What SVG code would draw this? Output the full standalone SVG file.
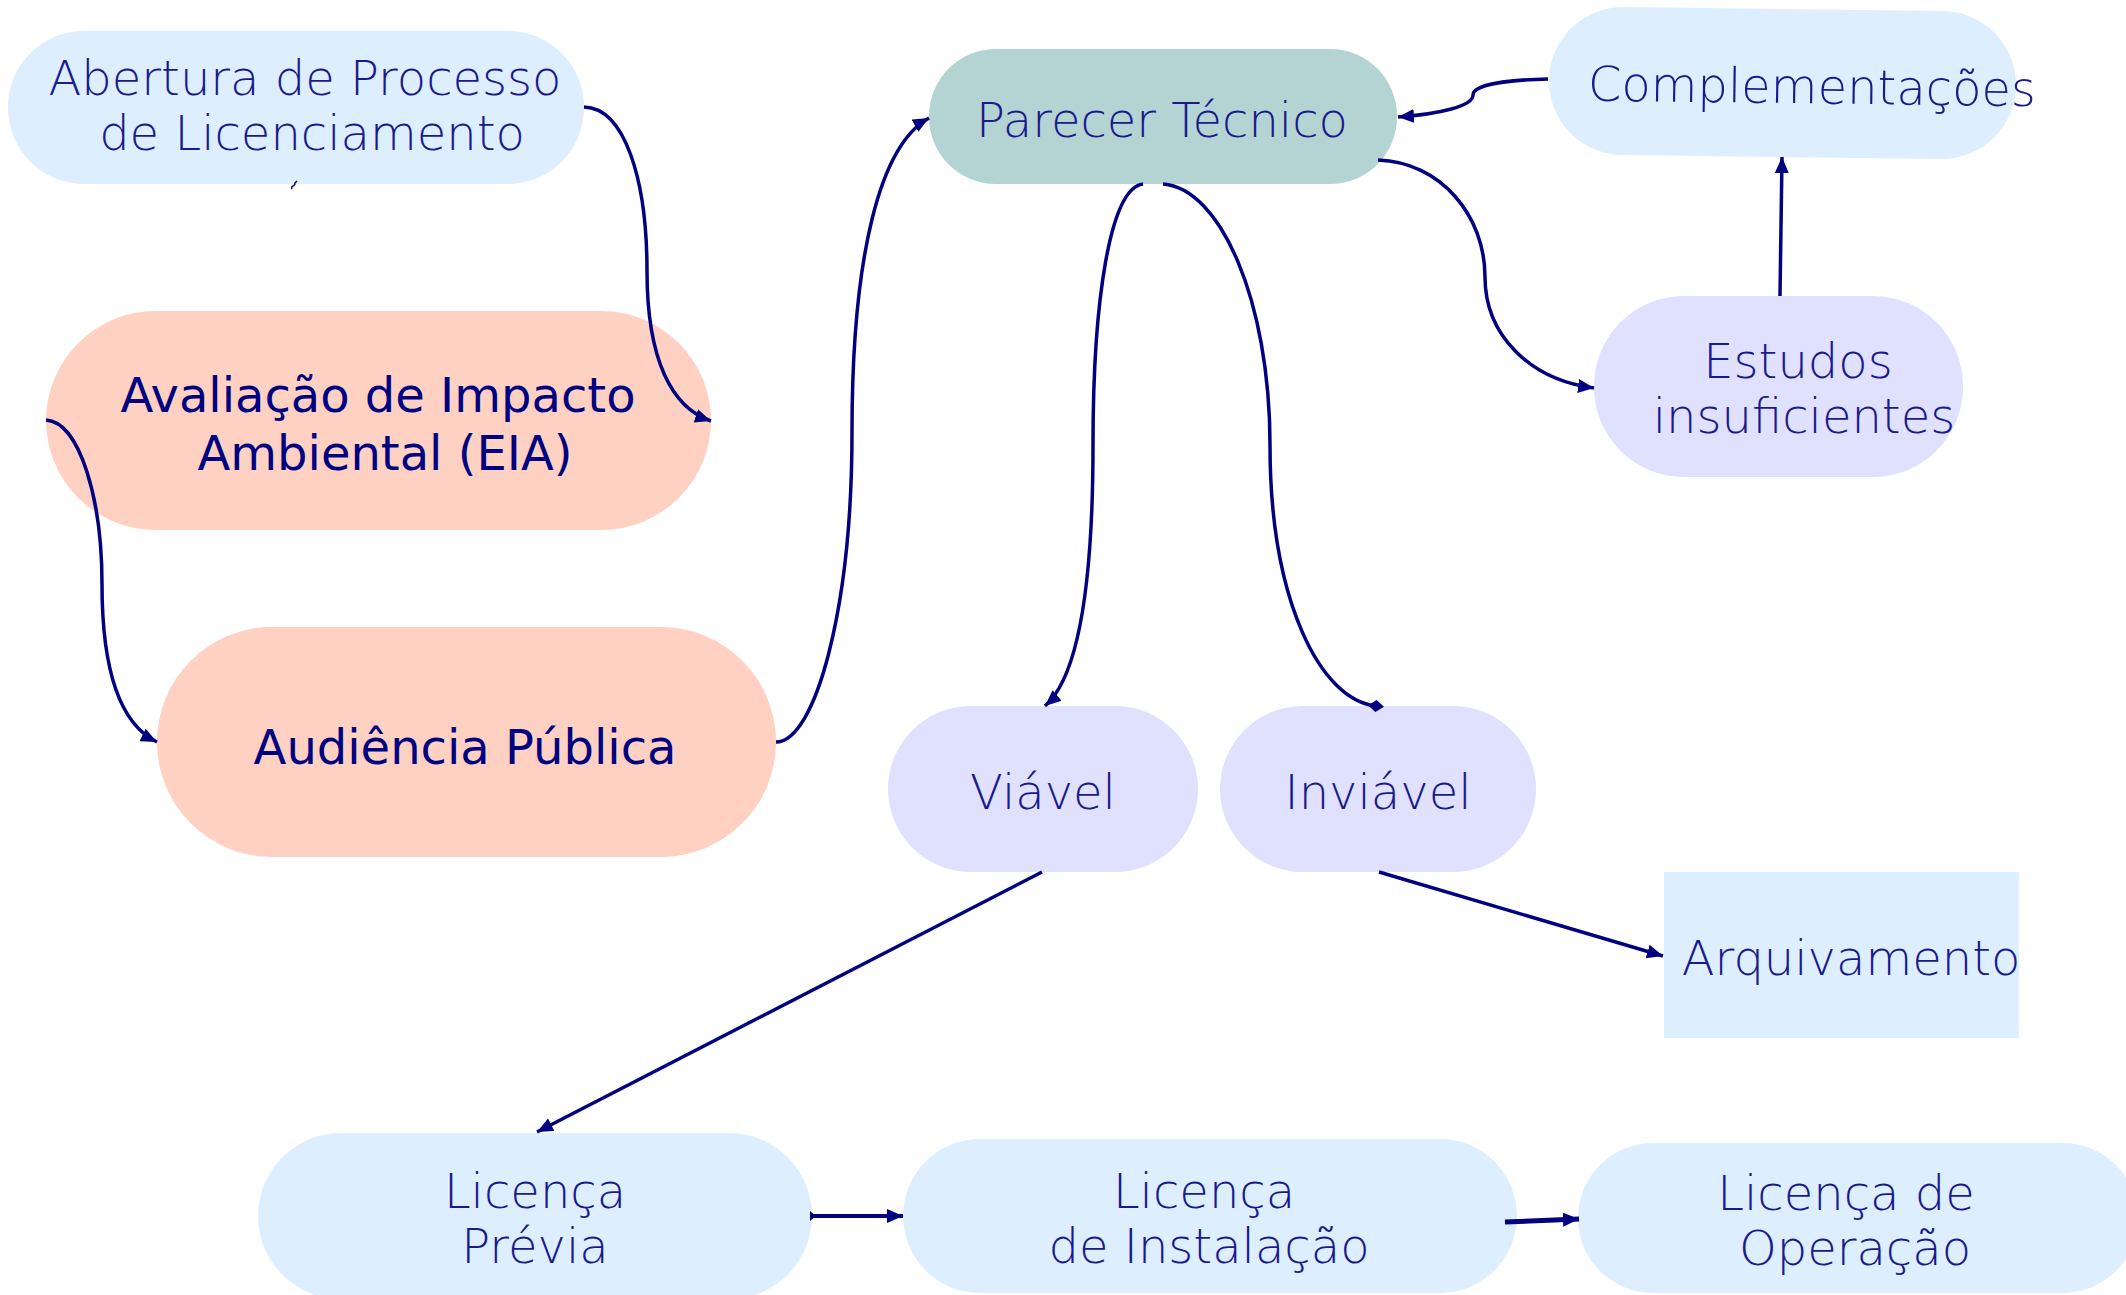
<svg xmlns="http://www.w3.org/2000/svg" width="2126" height="1295" viewBox="0 0 2126 1295">
<style>
.lb{fill:#DDEEFF}
.lv{fill:#E0E0FF}
.pc{fill:#FFD1C2}
.tl{fill:#B3D4D3}
text{font-family:"DejaVu Sans","Liberation Sans",sans-serif;font-size:48px;fill:#1a1a8c;text-anchor:middle;font-weight:200}
.dk{fill:#000080;font-weight:400}
.c{fill:none;stroke:#000080;stroke-width:3.5}
</style>
<defs>
<marker id="ar" markerUnits="userSpaceOnUse" markerWidth="18" markerHeight="16" refX="16" refY="7" orient="auto">
<path d="M0,0 L16,7 L0,14 z" fill="#000080"/>
</marker>
<marker id="dm" markerUnits="userSpaceOnUse" markerWidth="18" markerHeight="18" refX="9" refY="8" orient="auto">
<path d="M1,8 L9,2 L17,8 L9,14 z" fill="#000080"/>
</marker>
</defs>
<g id="n-abertura">
<rect class="lb" x="8" y="31" width="576" height="153" rx="76" ry="76"/>
<text x="305" y="95">Abertura de Processo</text>
<text x="312" y="150">de Licenciamento</text>
</g>
<g id="n-eia">
<rect class="pc" x="46" y="311" width="665" height="219" rx="110" ry="110"/>
<text class="dk" x="378" y="412">Avaliação de Impacto</text>
<text class="dk" x="385" y="470">Ambiental (EIA)</text>
</g>
<g id="n-audiencia">
<rect class="pc" x="157" y="627" width="619" height="230" rx="115" ry="115"/>
<text class="dk" x="465" y="764">Audiência Pública</text>
</g>
<g id="n-parecer">
<rect class="tl" x="929" y="49" width="468" height="135" rx="67" ry="67"/>
<text x="1162" y="137">Parecer Técnico</text>
</g>
<g id="n-complementacoes" transform="rotate(0.7 1783 83)">
<rect class="lb" x="1549" y="9" width="467" height="148" rx="74" ry="74"/>
<text x="1812" y="103">Complementações</text>
</g>
<g id="n-estudos">
<rect class="lv" x="1594" y="296" width="369" height="181" rx="90" ry="90"/>
<text x="1798" y="378">Estudos</text>
<text x="1804" y="433">insuficientes</text>
</g>
<g id="n-viavel">
<rect class="lv" x="888" y="706" width="310" height="166" rx="83" ry="83"/>
<text x="1043" y="809">Viável</text>
</g>
<g id="n-inviavel">
<rect class="lv" x="1220" y="706" width="316" height="166" rx="83" ry="83"/>
<text x="1378" y="809">Inviável</text>
</g>
<g id="n-arquivamento">
<rect class="lb" x="1664" y="872" width="355" height="166"/>
<text x="1851" y="975">Arquivamento</text>
</g>
<g id="n-previa">
<rect class="lb" x="258" y="1133" width="554" height="166" rx="83" ry="83"/>
<text x="535" y="1208">Licença</text>
<text x="535" y="1263">Prévia</text>
</g>
<g id="n-instalacao">
<rect class="lb" x="903" y="1139" width="614" height="154" rx="77" ry="77"/>
<text x="1204" y="1208">Licença</text>
<text x="1209" y="1263">de Instalação</text>
</g>
<g id="n-operacao">
<rect class="lb" x="1578" y="1143" width="560" height="150" rx="75" ry="75"/>
<text x="1846" y="1210">Licença de</text>
<text x="1855" y="1265">Operação</text>
</g>
<g id="connectors">
<path class="c" d="M292,189 c-2,-3 4,-3 3,-6 l2,-2" style="stroke-width:1.5"/>
<path class="c" d="M584,107 C625,108 647,180 647,271 C647,360 672,408 711,421" marker-end="url(#ar)"/>
<path class="c" d="M46,420 C80,422 102,500 102,584 C102,675 122,725 157,742" marker-end="url(#ar)"/>
<path class="c" d="M776,742 C815,742 852,610 852,432 C852,255 880,145 929,118" marker-end="url(#ar)"/>
<path class="c" d="M1548,79 C1500,80 1473,86 1473,95 C1473,106 1440,114 1398,117" marker-end="url(#ar)"/>
<path class="c" d="M1378,160 C1440,162 1485,215 1485,277 C1485,335 1530,380 1594,388" marker-end="url(#ar)"/>
<path class="c" d="M1780,296 L1782,157" marker-end="url(#ar)"/>
<path class="c" d="M1143,184 C1110,188 1093,300 1093,445 C1093,600 1075,680 1045,706" marker-end="url(#ar)"/>
<path class="c" d="M1163,184 C1220,188 1270,300 1270,445 C1270,600 1320,700 1376,706" marker-end="url(#dm)"/>
<path class="c" d="M1042,872 L537,1132" marker-end="url(#ar)"/>
<path class="c" d="M1379,872 L1663,956" marker-end="url(#ar)"/>
<path class="c" d="M812,1216 L903,1216" marker-end="url(#ar)" style="stroke-width:4"/>
<path d="M810,1211 L816,1216 L810,1221 z" fill="#000080"/>
<path class="c" d="M1505,1222 L1579,1219" marker-end="url(#ar)" style="stroke-width:5"/>
</g>
</svg>
